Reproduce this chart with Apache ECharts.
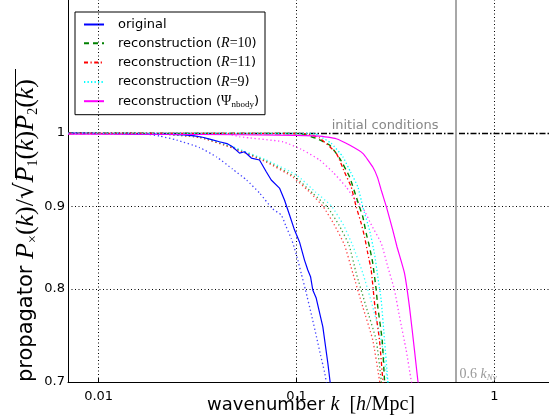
<!DOCTYPE html>
<html><head><meta charset="utf-8">
<script src="https://cdn.jsdelivr.net/npm/echarts@6/dist/echarts.min.js"></script>
<style>html,body{margin:0;padding:0;background:#fff}#c{width:549px;height:420px}</style>
</head><body><div id="c"></div>
<script>
// ---- data (wavenumber k in h/Mpc, propagator value) ----
const kOriginal = [0.007,0.009,0.012,0.015,0.019,0.023,0.027,0.0305,0.0335,0.0364,0.0408,0.0445,0.0475,0.0515,0.0546,0.0591,0.065,0.0703,0.0745,0.082,0.0869,0.0922,0.0977,0.1035,0.1097,0.114,0.1177,0.1208,0.1257,0.1358,0.1439,0.148];
const pOriginal = [1.0,0.9995,0.999,0.9985,0.9985,0.998,0.9975,0.996,0.994,0.9914,0.9876,0.985,0.9806,0.9717,0.9736,0.9648,0.9621,0.946,0.9349,0.9242,0.9085,0.8892,0.8702,0.8556,0.8336,0.8218,0.814,0.7986,0.7895,0.7575,0.7193,0.699];

const kOriginalPred = [0.007,0.0101,0.0135,0.0167,0.0203,0.0248,0.0324,0.0395,0.0475,0.0559,0.065,0.0757,0.0837,0.0887,0.094,0.0977,0.1015,0.1056,0.111,0.1191,0.1262,0.1322,0.1385,0.1417];
const pOriginalPred = [1.0,1.0,0.9998,0.9993,0.9957,0.99,0.9794,0.9662,0.9497,0.9349,0.9177,0.897,0.8892,0.8743,0.8598,0.8477,0.8336,0.8178,0.7986,0.7703,0.7465,0.7276,0.7101,0.699];

const kR10 = [0.007,0.02,0.05,0.08,0.1035,0.1257,0.1468,0.1649,0.1852,0.2002,0.208,0.2162,0.2249,0.2337,0.2428,0.2527,0.2574,0.2709,0.2783,0.2792];
const pR10 = [0.9995,0.9995,0.9994,0.9994,0.9993,0.9924,0.9829,0.9648,0.9393,0.9128,0.8997,0.887,0.8662,0.8497,0.8297,0.7986,0.7795,0.7433,0.7017,0.699];

const kR11 = [0.007,0.02,0.05,0.08,0.1097,0.1307,0.1586,0.1747,0.1889,0.2002,0.2122,0.2206,0.2291,0.2384,0.249,0.2625,0.2729,0.2738];
const pR11 = [0.9995,0.9995,0.9994,0.9994,0.9993,0.9929,0.9717,0.9457,0.9256,0.8997,0.8786,0.862,0.8415,0.8218,0.7795,0.7433,0.7017,0.699];

const kR9 = [0.007,0.02,0.05,0.08,0.1233,0.1307,0.1497,0.1713,0.1874,0.204,0.2162,0.2337,0.2476,0.2574,0.2678,0.2783,0.2891,0.2901];
const pR9 = [0.9995,0.9995,0.9994,0.9994,0.9993,0.9957,0.9854,0.9666,0.9457,0.926,0.8997,0.8702,0.8415,0.814,0.787,0.7433,0.7017,0.699];

const kPsi = [0.007,0.0324,0.082,0.1307,0.1586,0.1852,0.2162,0.2428,0.2565,0.2678,0.2848,0.3064,0.3218,0.3511,0.3721,0.3944,0.41,0.4123];
const pPsi = [0.9986,0.9979,0.9971,0.9957,0.9919,0.9829,0.9713,0.9525,0.9385,0.9216,0.8993,0.8702,0.8497,0.8182,0.7795,0.7327,0.7017,0.699];

const kR10Pred = [0.007,0.0181,0.0324,0.0475,0.0703,0.0977,0.1204,0.1434,0.1639,0.1842,0.2002,0.2249,0.2527,0.2678,0.269];
const pR10Pred = [1.0,0.9996,0.994,0.9795,0.9607,0.9396,0.9177,0.8993,0.8764,0.8518,0.8182,0.7795,0.7433,0.7017,0.699];

const kR11Pred = [0.007,0.0181,0.0324,0.0475,0.0703,0.0958,0.1177,0.1369,0.1555,0.1747,0.1924,0.2162,0.2428,0.2625,0.264];
const pR11Pred = [1.0,0.9996,0.9936,0.9788,0.9593,0.9389,0.9177,0.8993,0.8764,0.8518,0.8182,0.7795,0.7433,0.7017,0.699];

const kR9Pred = [0.007,0.0181,0.0324,0.0475,0.0703,0.1,0.1247,0.1502,0.1727,0.1918,0.2162,0.2428,0.2678,0.2891];
const pR9Pred = [1.0,0.9997,0.9947,0.9806,0.9621,0.9416,0.919,0.9006,0.8764,0.8518,0.8182,0.7795,0.7433,0.699];

const kPsiPred = [0.007,0.0443,0.0515,0.0853,0.1076,0.1307,0.1525,0.1782,0.1986,0.2155,0.2392,0.2678,0.2891,0.3126,0.3314,0.3581,0.3795,0.382];
const pPsiPred = [1.0,0.9993,0.9947,0.9876,0.9759,0.9621,0.9457,0.9256,0.9085,0.8993,0.8764,0.854,0.8257,0.7986,0.7686,0.7327,0.7017,0.699];

const xTicks = [0.01, 0.1, 1];
const xTickLabels = ['0.01', '0.1', '1'];
const yTicks = [0.7, 0.8, 0.9, 1];
const yTickLabels = ['0.7', '0.8', '0.9', '1'];
const initialLevel = 1;
const nyquistLine = 0.643;   // 0.6 k_Ny
const legendNames = ['original', 'R10', 'R11', 'R9', 'Psi'];

// ---- build ----
const zip = (a, b) => a.map((v, i) => [v, b[i]]);
const SERIF = 'Liberation Serif';
const SANS = 'DejaVu Sans';
const blue = '#0000ff', green = '#008000', red = '#ff0000', cyan = '#00ffff', magenta = '#ff00ff';

function lineSeries(name, k, p, color, type, width, opacity, z) {
  return {
    name, type: 'line', data: zip(k, p), symbol: 'none', showSymbol: false,
    clip: true, animation: false, z: z || 3, smooth: 0.15,
    lineStyle: { color, type, width, opacity: opacity == null ? 1 : opacity },
    itemStyle: { color }
  };
}

const dotted = [1.3, 2.6];
const seriesList = [
  lineSeries('pred-original', kOriginalPred, pOriginalPred, blue, dotted, 1.3, 0.75, 2),
  lineSeries('pred-R10', kR10Pred, pR10Pred, green, dotted, 1.3, 0.75, 2),
  lineSeries('pred-R11', kR11Pred, pR11Pred, red, dotted, 1.3, 0.75, 2),
  lineSeries('pred-R9', kR9Pred, pR9Pred, cyan, dotted, 1.3, 0.75, 2),
  lineSeries('pred-Psi', kPsiPred, pPsiPred, magenta, dotted, 1.3, 0.75, 2),
  lineSeries('original', kOriginal, pOriginal, blue, 'solid', 1.2, 1, 5),
  lineSeries('R10', kR10, pR10, green, [5, 4], 1.4, 1, 5),
  lineSeries('R11', kR11, pR11, red, [4, 2.5, 1.2, 2.5], 1.3, 1, 5),
  lineSeries('R9', kR9, pR9, cyan, [1.3, 2.2], 1.3, 1, 5),
  lineSeries('Psi', kPsi, pPsi, magenta, 'solid', 1.2, 1, 5)
];
seriesList[5].smooth = false;

const tickLabelStyle = { color: '#000', fontSize: 13, fontFamily: SANS };
const gridDot = { color: '#000', type: [1, 2.5], width: 1 };
const markLineData = [];
yTicks.forEach((v, i) => {
  let ls;
  if (v === initialLevel) ls = { color: '#000', type: [6, 2, 1.5, 2], width: 1.3 };
  else if (v === yTicks[0]) ls = { color: 'rgba(0,0,0,0)', width: 0 };
  else ls = gridDot;
  markLineData.push({
    yAxis: v, lineStyle: ls,
    label: Object.assign({ show: true, position: 'start', distance: 3, formatter: yTickLabels[i] }, tickLabelStyle)
  });
});
xTicks.forEach((v, i) => {
  markLineData.push({
    xAxis: v, lineStyle: gridDot,
    label: Object.assign({ show: true, position: 'start', distance: 8, formatter: xTickLabels[i] }, tickLabelStyle)
  });
});
markLineData.push({ xAxis: nyquistLine, lineStyle: { color: '#a8a8a8', type: 'solid', width: 2 }, label: { show: false } });

seriesList[5].markLine = { silent: true, animation: false, symbol: ['none', 'none'], data: markLineData };
seriesList[5].markPoint = {
  silent: true, animation: false,
  data: [
    { coord: [0.28, initialLevel], symbol: 'rect', symbolSize: 0,
      label: { show: true, position: 'top', distance: 1, formatter: 'initial conditions', color: '#888', fontSize: 13, fontFamily: SANS } },
    { coord: [nyquistLine, yTicks[0]], symbol: 'rect', symbolSize: 0,
      label: { show: true, position: 'right', distance: 3, offset: [0, -8],
        formatter: '{n|0.6 }{i|k}{s|Ny}',
        rich: {
          n: { fontFamily: SERIF, fontSize: 14, color: '#999', lineHeight: 16 },
          i: { fontFamily: SERIF, fontStyle: 'italic', fontSize: 14, color: '#999', lineHeight: 16 },
          s: { fontFamily: SERIF, fontStyle: 'italic', fontSize: 9, color: '#999', lineHeight: 8, verticalAlign: 'bottom' }
        } } }
  ]
};

const legendFmt = {
  original: '{t|original}',
  R10: '{t|reconstruction (}{i|R}{m|=10}{t|)}',
  R11: '{t|reconstruction (}{i|R}{m|=11}{t|)}',
  R9: '{t|reconstruction (}{i|R}{m|=9}{t|)}',
  Psi: '{t|reconstruction (}{m|Ψ}{s|nbody}{t|)}'
};

const option = {
  backgroundColor: '#fff',
  animation: false,
  grid: { left: 68, top: 0, right: -5, bottom: 38, containLabel: false, outerBoundsMode: 'none' },
  legend: {
    data: legendNames, orient: 'vertical', left: 75, top: 12,
    itemWidth: 20, itemHeight: 14, itemGap: 5.3,
    padding: [6, 6, 6, 8],
    borderColor: '#000', borderWidth: 1, backgroundColor: '#fff',
    selectedMode: false,
    itemStyle: { opacity: 0, borderWidth: 0 },
    formatter: n => legendFmt[n],
    textStyle: {
      padding: [0, 0, 0, 9],
      rich: {
        t: { fontFamily: SANS, fontSize: 13, color: '#000', lineHeight: 15 },
        i: { fontFamily: SERIF, fontStyle: 'italic', fontSize: 14, color: '#000', lineHeight: 15 },
        m: { fontFamily: SERIF, fontSize: 14, color: '#000', lineHeight: 15 },
        s: { fontFamily: SERIF, fontSize: 9, color: '#000', lineHeight: 9, verticalAlign: 'bottom' }
      }
    }
  },
  xAxis: {
    type: 'log', logBase: 10, min: 0.007, max: 2,
    axisLine: { show: true, onZero: false, lineStyle: { color: '#000', width: 1 } },
    axisTick: { show: true, inside: true, length: 4, lineStyle: { color: '#000' } },
    axisLabel: { show: false },
    splitLine: { show: false },
    name: '{t|wavenumber }{i|k}{m|  [}{i|h}{m|/Mpc]}',
    nameLocation: 'middle', nameGap: 12,
    nameTextStyle: {
      rich: {
        t: { fontFamily: SANS, fontSize: 18, color: '#000', lineHeight: 22 },
        i: { fontFamily: SERIF, fontStyle: 'italic', fontSize: 20, color: '#000', lineHeight: 22 },
        m: { fontFamily: SERIF, fontSize: 20, color: '#000', lineHeight: 22 }
      }
    }
  },
  yAxis: {
    type: 'log', logBase: 10, min: 0.7, max: 1.21,
    axisLine: { show: true, onZero: false, lineStyle: { color: '#000', width: 1 } },
    axisTick: { show: false }, axisLabel: { show: false }, splitLine: { show: false },
    name: '{t|propagator }{i|P}{s|×}{m|(}{i|k}{m|)/}{r|√}{i|P}{s|1}{m|(}{i|k}{m|)}{i|P}{s|2}{m|(}{i|k}{m|)}',
    nameLocation: 'middle', nameRotate: 90, nameGap: 28,
    nameTextStyle: {
      padding: [0, 79, 0, 0],
      rich: {
        t: { fontFamily: SANS, fontSize: 21, color: '#000', lineHeight: 27 },
        i: { fontFamily: SERIF, fontStyle: 'italic', fontSize: 26, color: '#000', lineHeight: 27 },
        m: { fontFamily: SERIF, fontSize: 26, color: '#000', lineHeight: 27 },
        r: { fontFamily: 'DejaVu Sans', fontSize: 26, color: '#000', lineHeight: 27 },
        s: { fontFamily: SERIF, fontSize: 14, color: '#000', lineHeight: 14, verticalAlign: 'bottom' }
      }
    }
  },
  graphic: [
    { type: 'line', silent: true, shape: { x1: 15.5, y1: 69, x2: 15.5, y2: 178 }, style: { stroke: '#000', lineWidth: 1 } }
  ],
  series: seriesList
};

const chart = echarts.init(document.getElementById('c'), null, { renderer: 'canvas' });
chart.setOption(option);
</script>
</body></html>
